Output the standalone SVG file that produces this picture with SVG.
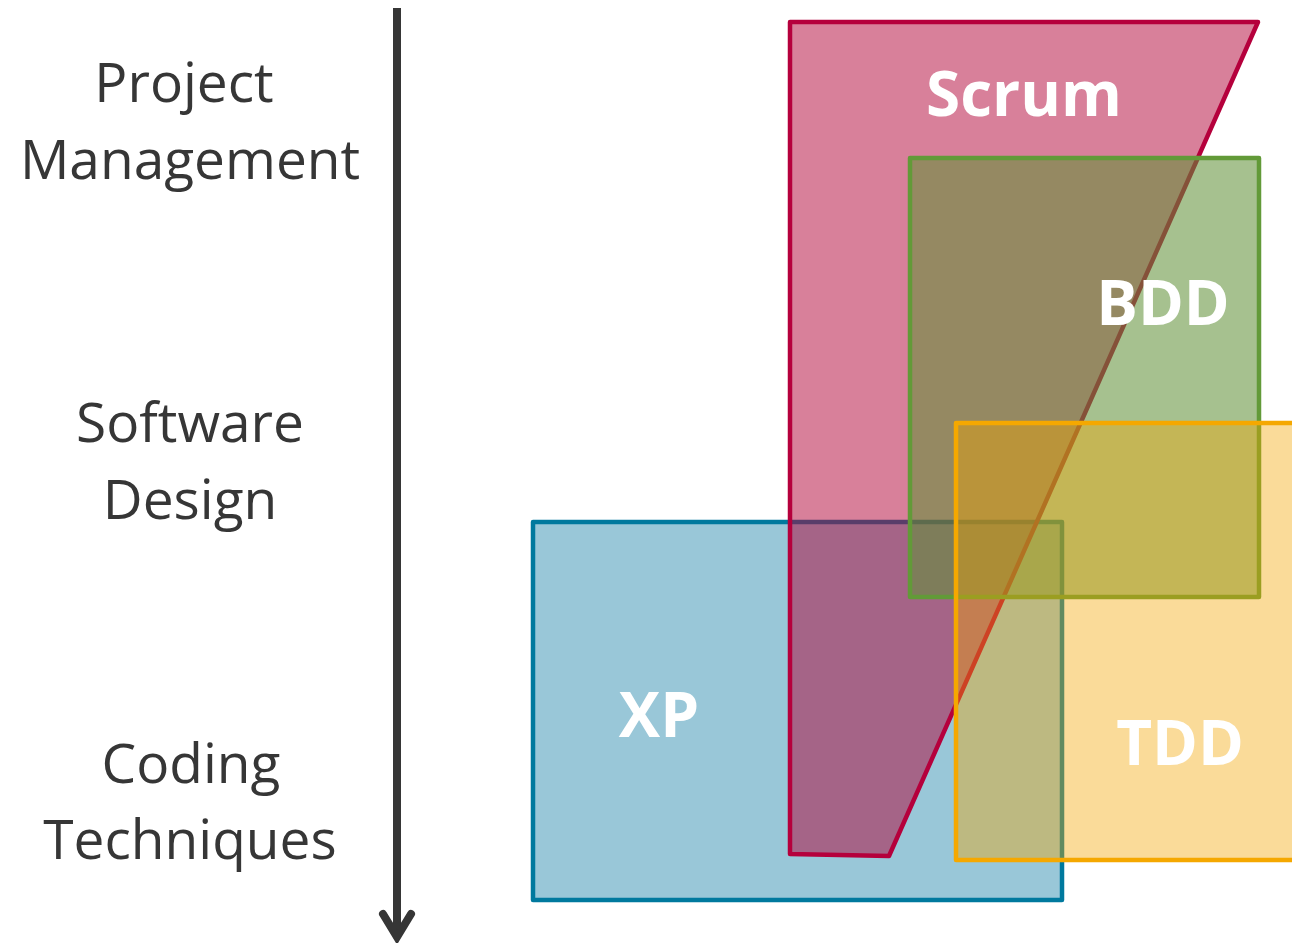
<svg xmlns="http://www.w3.org/2000/svg" width="1292" height="943" viewBox="0 0 1292 943">
  <style>
    .lbl { font-family: "Open Sans", "Liberation Sans", sans-serif; font-size: 55px; fill: #363636; text-anchor: middle; }
    .name { font-family: "Open Sans", "Liberation Sans", sans-serif; font-weight: bold; font-size: 62px; fill: #ffffff; text-anchor: middle; }
    .shape { stroke-width: 4.5; stroke-linejoin: round; }
  </style>
  <rect width="1292" height="943" fill="#ffffff"/>
  <g id="axis">
    <line x1="397" y1="8" x2="397" y2="936" stroke="#363636" stroke-width="8"/>
    <polyline points="383,914 397,937 411,914" fill="none" stroke="#363636" stroke-width="8" stroke-linecap="round" stroke-linejoin="miter"/>
  </g>
  <g id="labels">
    <text class="lbl" x="184" y="102">Project</text>
    <text class="lbl" x="190" y="179">Management</text>
    <text class="lbl" x="190" y="442">Software</text>
    <text class="lbl" x="190" y="519">Design</text>
    <text class="lbl" x="191" y="783">Coding</text>
    <text class="lbl" x="190" y="859">Techniques</text>
  </g>
  <g id="xp">
    <rect class="shape" x="533" y="522" width="529" height="378" fill="#00739D" fill-opacity="0.4" stroke="#00799E"/>
  </g>
  <g id="scrum">
    <polygon class="shape" points="790,22 1258,22 889,856 790,854" fill="#B10135" fill-opacity="0.5" stroke="#B5003C"/>
  </g>
  <g id="bdd">
    <rect class="shape" x="910" y="158" width="349" height="439" fill="#609137" fill-opacity="0.56" stroke="#629A38"/>
  </g>
  <g id="tdd">
    <rect class="shape" x="956" y="423" width="340" height="437" fill="#F2A500" fill-opacity="0.4" stroke="#F5A800"/>
  </g>
  <g id="names">
    <text class="name" x="1024" y="116">Scrum</text>
    <text class="name" x="1163" y="325">BDD</text>
    <text class="name" x="659" y="737">XP</text>
    <text class="name" x="1180" y="765">TDD</text>
  </g>
</svg>
